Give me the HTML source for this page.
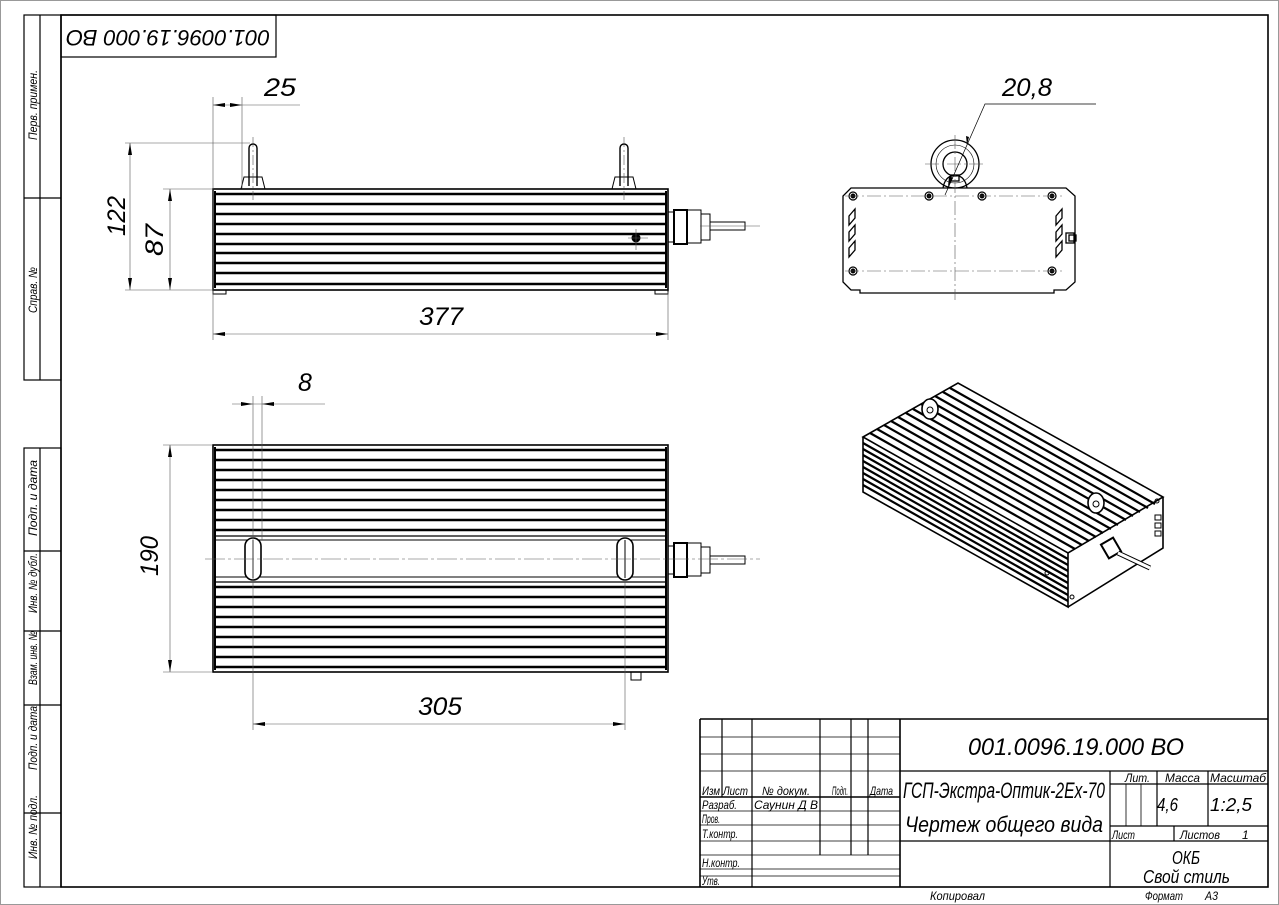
<!DOCTYPE html>
<html><head><meta charset="utf-8"><style>
html,body{margin:0;padding:0;background:#fff}
svg{display:block}
text{font-family:"Liberation Sans",sans-serif;font-style:italic;fill:#000}
</style></head><body>
<svg width="1279" height="905" viewBox="0 0 1279 905" xmlns="http://www.w3.org/2000/svg">
<rect x="0.5" y="0.5" width="1278" height="904" fill="#fff" stroke="#999"/>
<rect x="61" y="15" width="1207" height="872" fill="none" stroke="#000" stroke-width="1.6"/>
<g stroke="#000" stroke-width="1.2" fill="none">
<rect x="24" y="15" width="37" height="365"/><line x1="40" y1="15" x2="40" y2="380"/><line x1="24" y1="198" x2="61" y2="198"/>
<rect x="24" y="448" width="37" height="439"/><line x1="40" y1="448" x2="40" y2="887"/>
<line x1="24" y1="551" x2="61" y2="551"/><line x1="24" y1="631" x2="61" y2="631"/><line x1="24" y1="705" x2="61" y2="705"/><line x1="24" y1="813" x2="61" y2="813"/>
<rect x="61" y="15" width="215" height="42"/>
</g>
<g font-size="12">
<text transform="translate(37,105) rotate(-90)" text-anchor="middle" textLength="70" lengthAdjust="spacingAndGlyphs">Перв. примен.</text>
<text transform="translate(37,290) rotate(-90)" text-anchor="middle" textLength="46" lengthAdjust="spacingAndGlyphs">Справ. №</text>
<text transform="translate(37,498) rotate(-90)" text-anchor="middle" textLength="76" lengthAdjust="spacingAndGlyphs">Подп. и дата</text>
<text transform="translate(37,583) rotate(-90)" text-anchor="middle" textLength="60" lengthAdjust="spacingAndGlyphs">Инв. № дубл.</text>
<text transform="translate(37,658) rotate(-90)" text-anchor="middle" textLength="54" lengthAdjust="spacingAndGlyphs">Взам. инв. №</text>
<text transform="translate(37,738) rotate(-90)" text-anchor="middle" textLength="64" lengthAdjust="spacingAndGlyphs">Подп. и дата</text>
<text transform="translate(37,827) rotate(-90)" text-anchor="middle" textLength="64" lengthAdjust="spacingAndGlyphs">Инв. № подл.</text>
</g>
<text transform="translate(168,36) rotate(180)" text-anchor="middle" dominant-baseline="middle" font-size="22" textLength="204" lengthAdjust="spacingAndGlyphs">001.0096.19.000 ВО</text>

<!-- FRONT VIEW -->
<g stroke="#000" fill="none">
<rect x="213" y="189" width="455" height="101" stroke-width="1.6"/>
<g stroke-width="2.4">
<line x1="215" y1="194" x2="666" y2="194"/><line x1="215" y1="204" x2="666" y2="204"/><line x1="215" y1="214" x2="666" y2="214"/><line x1="215" y1="224" x2="666" y2="224"/><line x1="215" y1="234" x2="666" y2="234"/><line x1="215" y1="244" x2="666" y2="244"/><line x1="215" y1="253" x2="666" y2="253"/><line x1="215" y1="263" x2="666" y2="263"/><line x1="215" y1="273" x2="666" y2="273"/><line x1="215" y1="284" x2="666" y2="284"/>
</g>
<line x1="215" y1="191" x2="215" y2="288" stroke-width="2"/><line x1="666" y1="191" x2="666" y2="288" stroke-width="2"/>
<rect x="213" y="290" width="13" height="4"/><rect x="655" y="290" width="13" height="4"/>
<path d="M249,186 v-38 a4,4 0 0 1 8,0 v38" stroke-width="1.4"/><path d="M241,189 l3,-12 h18 l3,12"/>
<path d="M620,186 v-38 a4,4 0 0 1 8,0 v38" stroke-width="1.4"/><path d="M612,189 l3,-12 h18 l3,12"/>
<rect x="668" y="212" width="6" height="30"/><rect x="674" y="210" width="13" height="34" stroke-width="2"/><rect x="687" y="210" width="14" height="33"/><rect x="701" y="214" width="9" height="26"/><rect x="710" y="222" width="35" height="8"/>
<circle cx="636" cy="238" r="4" fill="#000"/>
</g>
<g stroke="#555" stroke-width="0.6" fill="none">
<line x1="253" y1="137" x2="253" y2="200" stroke-dasharray="10,3,2,3"/><line x1="624" y1="137" x2="624" y2="200" stroke-dasharray="10,3,2,3"/>
<line x1="700" y1="226" x2="760" y2="226"/><line x1="628" y1="238" x2="648" y2="238"/><line x1="636" y1="229" x2="636" y2="250"/>
<line x1="213" y1="97" x2="213" y2="340"/><line x1="242" y1="97" x2="242" y2="188"/><line x1="213" y1="105" x2="300" y2="105"/>
<line x1="125" y1="143" x2="250" y2="143"/><line x1="125" y1="290" x2="213" y2="290"/><line x1="163" y1="189" x2="213" y2="189"/>
<line x1="130" y1="143" x2="130" y2="290"/><line x1="170" y1="189" x2="170" y2="290"/>
<line x1="668" y1="292" x2="668" y2="340"/><line x1="213" y1="334" x2="668" y2="334"/>
</g>
<g fill="#000">
<path d="M213,105 l12,-2 v4z"/><path d="M242,105 l-12,-2 v4z"/>
<path d="M130,143 l-2,12 h4z"/><path d="M130,290 l-2,-12 h4z"/>
<path d="M170,189 l-2,12 h4z"/><path d="M170,290 l-2,-12 h4z"/>
<path d="M213,334 l12,-2 v4z"/><path d="M668,334 l-12,-2 v4z"/>
</g>
<g font-size="25">
<text x="264" y="96" textLength="32" lengthAdjust="spacingAndGlyphs">25</text>
<text transform="translate(125,216) rotate(-90)" text-anchor="middle" textLength="40" lengthAdjust="spacingAndGlyphs">122</text>
<text transform="translate(163,240) rotate(-90)" text-anchor="middle" textLength="32" lengthAdjust="spacingAndGlyphs">87</text>
<text x="419" y="325" textLength="44" lengthAdjust="spacingAndGlyphs">377</text>
</g>

<!-- TOP VIEW -->
<g stroke="#000" fill="none">
<rect x="213" y="445" width="455" height="227" stroke-width="1.6"/>
<g stroke-width="2.4">
<line x1="215" y1="450" x2="666" y2="450"/><line x1="215" y1="460" x2="666" y2="460"/><line x1="215" y1="470" x2="666" y2="470"/><line x1="215" y1="480" x2="666" y2="480"/><line x1="215" y1="490" x2="666" y2="490"/><line x1="215" y1="500" x2="666" y2="500"/><line x1="215" y1="510" x2="666" y2="510"/><line x1="215" y1="520" x2="666" y2="520"/><line x1="215" y1="530" x2="666" y2="530"/>
<line x1="215" y1="587" x2="666" y2="587"/><line x1="215" y1="597" x2="666" y2="597"/><line x1="215" y1="607" x2="666" y2="607"/><line x1="215" y1="617" x2="666" y2="617"/><line x1="215" y1="627" x2="666" y2="627"/><line x1="215" y1="637" x2="666" y2="637"/><line x1="215" y1="647" x2="666" y2="647"/><line x1="215" y1="657" x2="666" y2="657"/><line x1="215" y1="667" x2="666" y2="667"/>
</g>
<line x1="215" y1="540" x2="666" y2="540"/><line x1="215" y1="577" x2="666" y2="577"/><line x1="215" y1="536" x2="666" y2="536" stroke-width="1.2"/><line x1="215" y1="582" x2="666" y2="582" stroke-width="1.2"/>
<line x1="215" y1="447" x2="215" y2="670" stroke-width="2"/><line x1="666" y1="447" x2="666" y2="670" stroke-width="2"/>
<rect x="245" y="538" width="16" height="42" rx="8" fill="#fff" stroke-width="1.6"/><line x1="253" y1="540" x2="253" y2="578"/>
<rect x="617" y="538" width="16" height="42" rx="8" fill="#fff" stroke-width="1.6"/><line x1="625" y1="540" x2="625" y2="578"/>
<rect x="668" y="546" width="6" height="28"/><rect x="674" y="543" width="13" height="34" stroke-width="2"/><rect x="687" y="543" width="14" height="33"/><rect x="701" y="547" width="9" height="26"/><rect x="710" y="556" width="35" height="8"/>
<rect x="631" y="672" width="10" height="8"/>
</g>
<g stroke="#555" stroke-width="0.6" fill="none">
<line x1="205" y1="559" x2="760" y2="559" stroke-dasharray="20,3,3,3"/>
<line x1="253" y1="396" x2="253" y2="730"/><line x1="262" y1="396" x2="262" y2="540"/><line x1="232" y1="404" x2="325" y2="404"/>
<line x1="163" y1="445" x2="213" y2="445"/><line x1="163" y1="672" x2="213" y2="672"/><line x1="170" y1="445" x2="170" y2="672"/>
<line x1="625" y1="580" x2="625" y2="730"/><line x1="253" y1="724" x2="625" y2="724"/>
</g>
<g fill="#000">
<path d="M253,404 l-12,-2 v4z"/><path d="M262,404 l12,-2 v4z"/>
<path d="M170,445 l-2,12 h4z"/><path d="M170,672 l-2,-12 h4z"/>
<path d="M253,724 l12,-2 v4z"/><path d="M625,724 l-12,-2 v4z"/>
</g>
<g font-size="25">
<text x="298" y="391">8</text>
<text transform="translate(158,556) rotate(-90)" text-anchor="middle" textLength="40" lengthAdjust="spacingAndGlyphs">190</text>
<text x="418" y="715" textLength="44" lengthAdjust="spacingAndGlyphs">305</text>
</g>

<!-- SIDE VIEW -->
<g stroke="#000" fill="none" stroke-width="1.3">
<path d="M851,188 H1066 l9,8 V282 l-9,8 H1054 v3 H860 v-3 H851 l-8,-8 V196z"/>
<circle cx="955" cy="164" r="24"/><circle cx="955" cy="164" r="19" stroke-width="0.6"/><circle cx="955" cy="164" r="12"/>
<path d="M943,188 q2,-12 12,-13 q10,1 12,13"/><rect x="951" y="175" width="8" height="6"/>
<g stroke-width="1.2">
<circle cx="853" cy="196" r="4"/><circle cx="929" cy="196" r="4"/><circle cx="982" cy="196" r="4"/><circle cx="1052" cy="196" r="4"/><circle cx="853" cy="271" r="4"/><circle cx="1052" cy="271" r="4"/>
</g>
<g fill="#000"><circle cx="853" cy="196" r="1.8"/><circle cx="929" cy="196" r="1.8"/><circle cx="982" cy="196" r="1.8"/><circle cx="1052" cy="196" r="1.8"/><circle cx="853" cy="271" r="1.8"/><circle cx="1052" cy="271" r="1.8"/></g>
<path d="M849,216 l6,-7 v9 l-6,7z M849,232 l6,-7 v9 l-6,7z M849,248 l6,-7 v9 l-6,7z"/>
<path d="M1056,216 l6,-7 v9 l-6,7z M1056,232 l6,-7 v9 l-6,7z M1056,248 l6,-7 v9 l-6,7z"/>
<rect x="1066" y="233" width="8" height="10"/><rect x="1069" y="235" width="7" height="6"/>
</g>
<g stroke="#555" stroke-width="0.6" fill="none" stroke-dasharray="14,3,2,3">
<line x1="955" y1="135" x2="955" y2="300"/><line x1="845" y1="196" x2="1065" y2="196"/><line x1="845" y1="271" x2="1065" y2="271"/><line x1="925" y1="164" x2="985" y2="164"/>
</g>
<g stroke="#000" stroke-width="0.7" fill="none"><polyline points="1096,104 985,104 945,195"/></g>
<path d="M967,145 l-1,-9 3,1z M948,187 l5,-9 -4,-2z" fill="#000"/>
<text x="1002" y="96" font-size="25" textLength="50" lengthAdjust="spacingAndGlyphs">20,8</text>

<!-- ISO VIEW -->
<g stroke="#000" fill="none">
<path d="M863,437 L958,383 L1163,497 L1068,553 Z" stroke-width="1.6"/>
<path d="M863,437 L863,492 L1068,607 L1068,553" stroke-width="1.6"/>
<path d="M1068,607 L1163,548 L1163,497" stroke-width="1.6"/>
<g stroke-width="2.2">
<line x1="870" y1="433" x2="1075" y2="549"/><line x1="877" y1="429" x2="1082" y2="545"/><line x1="884" y1="425" x2="1089" y2="541"/><line x1="891" y1="421" x2="1096" y2="537"/><line x1="898" y1="417" x2="1103" y2="533"/><line x1="906" y1="413" x2="1111" y2="529"/><line x1="913" y1="409" x2="1118" y2="525"/><line x1="921" y1="404" x2="1126" y2="520"/><line x1="928" y1="400" x2="1133" y2="516"/><line x1="935" y1="396" x2="1140" y2="512"/><line x1="943" y1="392" x2="1148" y2="508"/><line x1="950" y1="388" x2="1155" y2="504"/>
<line x1="863" y1="443" x2="1068" y2="559"/><line x1="863" y1="449" x2="1068" y2="565"/><line x1="863" y1="455" x2="1068" y2="571"/><line x1="863" y1="461" x2="1068" y2="577"/><line x1="863" y1="467" x2="1068" y2="583"/><line x1="863" y1="473" x2="1068" y2="589"/><line x1="863" y1="479" x2="1068" y2="595"/><line x1="863" y1="485" x2="1068" y2="601"/>
</g>
<ellipse cx="930" cy="409" rx="8" ry="10" fill="#fff" stroke-width="1.6"/><circle cx="930" cy="410" r="3"/>
<ellipse cx="1096" cy="503" rx="8" ry="10" fill="#fff" stroke-width="1.6"/><circle cx="1096" cy="504" r="3"/>
<rect x="1104" y="540" width="14" height="16" transform="rotate(-30 1111 548)" stroke-width="2"/>
<line x1="1118" y1="553" x2="1150" y2="568" stroke-width="5"/><line x1="1118" y1="553" x2="1150" y2="568" stroke="#fff" stroke-width="3"/>
<rect x="1155" y="515" width="6" height="5"/><rect x="1155" y="523" width="6" height="5"/><rect x="1155" y="531" width="6" height="5"/>
<circle cx="1047" cy="573" r="2"/><circle cx="1072" cy="597" r="2"/><circle cx="1157" cy="501" r="2"/>
</g>

<!-- TITLE BLOCK -->
<g stroke="#000" stroke-width="1.2" fill="none">
<line x1="700" y1="719" x2="1268" y2="719" stroke-width="1.6"/>
<line x1="700" y1="719" x2="700" y2="887" stroke-width="1.6"/>
<line x1="722" y1="719" x2="722" y2="797"/><line x1="752" y1="719" x2="752" y2="887"/><line x1="820" y1="719" x2="820" y2="855"/><line x1="851" y1="719" x2="851" y2="855"/><line x1="868" y1="719" x2="868" y2="855"/>
<line x1="900" y1="719" x2="900" y2="887" stroke-width="1.6"/>
<g stroke-width="0.8"><line x1="700" y1="737" x2="900" y2="737"/><line x1="700" y1="754" x2="900" y2="754"/><line x1="700" y1="771" x2="900" y2="771"/><line x1="700" y1="811" x2="900" y2="811"/><line x1="700" y1="825" x2="900" y2="825"/><line x1="700" y1="841" x2="900" y2="841"/><line x1="700" y1="855" x2="900" y2="855"/><line x1="700" y1="869" x2="900" y2="869"/><line x1="700" y1="876" x2="900" y2="876"/></g>
<line x1="700" y1="797" x2="900" y2="797" stroke-width="1.4"/>
<line x1="900" y1="771" x2="1268" y2="771"/><line x1="900" y1="841" x2="1268" y2="841"/>
<line x1="1110" y1="771" x2="1110" y2="887"/>
<line x1="1110" y1="784" x2="1268" y2="784"/><line x1="1110" y1="826" x2="1268" y2="826"/>
<line x1="1157" y1="771" x2="1157" y2="826"/><line x1="1208" y1="771" x2="1208" y2="826"/>
<line x1="1126" y1="784" x2="1126" y2="826" stroke-width="0.8"/><line x1="1141" y1="784" x2="1141" y2="826" stroke-width="0.8"/>
<line x1="1174" y1="826" x2="1174" y2="841"/>
</g>
<g font-size="12" lengthAdjust="spacingAndGlyphs">
<text x="702" y="795" textLength="18" lengthAdjust="spacingAndGlyphs">Изм</text><text x="723" y="795" textLength="25" lengthAdjust="spacingAndGlyphs">Лист</text><text x="762" y="795" textLength="48" lengthAdjust="spacingAndGlyphs">№ докум.</text><text x="832" y="795" textLength="16" lengthAdjust="spacingAndGlyphs">Подп.</text><text x="870" y="795" textLength="23" lengthAdjust="spacingAndGlyphs">Дата</text>
<text x="702" y="809" textLength="35" lengthAdjust="spacingAndGlyphs">Разраб.</text><text x="754" y="809" textLength="64" lengthAdjust="spacingAndGlyphs">Саунин Д В</text>
<text x="702" y="823" textLength="18" lengthAdjust="spacingAndGlyphs">Пров.</text><text x="702" y="838" textLength="36" lengthAdjust="spacingAndGlyphs">Т.контр.</text><text x="702" y="867" textLength="38" lengthAdjust="spacingAndGlyphs">Н.контр.</text><text x="702" y="885" textLength="18" lengthAdjust="spacingAndGlyphs">Утв.</text>
<text x="1125" y="782" textLength="25" lengthAdjust="spacingAndGlyphs">Лит.</text><text x="1165" y="782" textLength="35" lengthAdjust="spacingAndGlyphs">Масса</text><text x="1210" y="782" textLength="56" lengthAdjust="spacingAndGlyphs">Масштаб</text>
<text x="1112" y="839" textLength="23" lengthAdjust="spacingAndGlyphs">Лист</text><text x="1180" y="839" textLength="40" lengthAdjust="spacingAndGlyphs">Листов</text><text x="1242" y="839">1</text>
<text x="930" y="900" textLength="55" lengthAdjust="spacingAndGlyphs">Копировал</text><text x="1145" y="900" textLength="38" lengthAdjust="spacingAndGlyphs">Формат</text><text x="1205" y="900" textLength="13" lengthAdjust="spacingAndGlyphs">А3</text>
</g>
<text x="968" y="755" font-size="24" textLength="216" lengthAdjust="spacingAndGlyphs">001.0096.19.000 ВО</text>
<text x="903" y="798" font-size="22" textLength="202" lengthAdjust="spacingAndGlyphs">ГСП-Экстра-Оптик-2Ex-70</text>
<text x="905" y="832" font-size="22" textLength="198" lengthAdjust="spacingAndGlyphs">Чертеж общего вида</text>
<text x="1157" y="811" font-size="18" textLength="21" lengthAdjust="spacingAndGlyphs">4,6</text><text x="1210" y="811" font-size="18" textLength="42" lengthAdjust="spacingAndGlyphs">1:2,5</text>
<text x="1172" y="864" font-size="18" textLength="28" lengthAdjust="spacingAndGlyphs">ОКБ</text><text x="1143" y="883" font-size="18" textLength="87" lengthAdjust="spacingAndGlyphs">Свой стиль</text>
</svg>
</body></html>
